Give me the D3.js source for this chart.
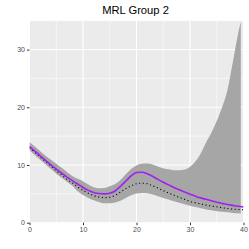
<!DOCTYPE html>
<html>
<head>
<meta charset="utf-8">
<script src="https://cdn.jsdelivr.net/npm/d3@7"></script>
<style>
html,body{margin:0;padding:0;background:#fff;}
svg{display:block;font-family:"Liberation Sans",Arial,sans-serif;}
</style>
</head>
<body>
<svg id="chart" width="249" height="249"></svg>
<script>
const title = "MRL Group 2";
const xTicks = [0, 10, 20, 30, 40];
const yTicks = [0, 10, 20, 30];
const xMinor = [5, 15, 25, 35];
const yMinor = [5, 15, 25, 35];

const lineX = [0,1,2,3,4,5,6,7,8,9,10,11,12,13,14,15,16,17,18,19,20,21,22,23,24,25,26,27,28,29,30,31,32,33,34,35,36,37,38,39,40];
const meanY = [13.2,12.4,11.6,10.8,10.0,9.3,8.6,7.9,7.3,6.7,6.1,5.6,5.25,5.05,5.0,5.1,5.5,6.3,7.2,8.1,8.7,8.75,8.5,8.05,7.5,7.0,6.55,6.1,5.7,5.3,4.95,4.6,4.3,4.05,3.8,3.55,3.35,3.15,3.0,2.85,2.72];
const medianY = [13.0,12.2,11.4,10.6,9.8,9.0,8.3,7.5,6.9,6.2,5.6,5.1,4.7,4.45,4.35,4.4,4.75,5.3,5.9,6.4,6.75,6.85,6.75,6.4,6.0,5.55,5.15,4.75,4.4,4.05,3.7,3.45,3.25,3.05,2.9,2.75,2.6,2.45,2.35,2.3,2.25];

const bandX = [0,1,2,3,4,5,6,7,8,9,10,11,12,13,14,15,16,17,18,19,20,21,22,23,24,25,26,27,28,29,30,31,32,33,34,35,36,37,38,39,39.5];
const bandLo = [12.5,11.7,10.9,10.1,9.3,8.5,7.8,7.1,6.4,5.45,4.8,4.3,3.9,3.6,3.35,3.35,3.5,3.8,4.3,4.75,5.05,5.15,5.1,4.9,4.6,4.3,4.0,3.7,3.45,3.2,2.95,2.7,2.5,2.3,2.15,2.0,1.9,1.8,1.7,1.65,1.6];
const bandHi = [14.0,13.2,12.4,11.6,10.9,10.2,9.5,8.8,8.1,7.6,7.2,6.6,6.15,5.95,6.0,6.3,6.7,7.4,8.4,9.3,9.9,10.2,10.25,10.1,9.75,9.45,9.25,9.1,9.1,9.2,9.7,10.6,12.0,13.9,15.6,17.6,20.0,23.0,27.8,32.8,34.8];

const W = 249, H = 249;
const L = 29.5, R = 243.5, T = 20.7, B = 222.7;

const svg = d3.select("#chart");
const x = d3.scaleLinear().domain([0, 40]).range([L, R]);
const y = d3.scaleLinear().domain([0, 35]).range([B, T]);

// panel
svg.append("rect").attr("x", L).attr("y", T).attr("width", R - L).attr("height", B - T).attr("fill", "#EBEBEB");

const grid = svg.append("g");
xMinor.forEach(v => grid.append("line").attr("x1", x(v)).attr("x2", x(v)).attr("y1", T).attr("y2", B).attr("stroke", "#fff").attr("stroke-width", 0.55));
yMinor.forEach(v => grid.append("line").attr("y1", y(v)).attr("y2", y(v)).attr("x1", L).attr("x2", R).attr("stroke", "#fff").attr("stroke-width", 0.55));
xTicks.forEach(v => grid.append("line").attr("x1", x(v)).attr("x2", x(v)).attr("y1", T).attr("y2", B).attr("stroke", "#fff").attr("stroke-width", 1.07));
yTicks.forEach(v => grid.append("line").attr("y1", y(v)).attr("y2", y(v)).attr("x1", L).attr("x2", R).attr("stroke", "#fff").attr("stroke-width", 1.07));

svg.append("clipPath").attr("id", "clip").append("rect").attr("x", L).attr("y", T).attr("width", R - L).attr("height", B - T);
const plot = svg.append("g").attr("clip-path", "url(#clip)");

const band = bandX.map((d, i) => ({x: d, lo: bandLo[i], hi: bandHi[i]}));
plot.append("path").datum(band)
  .attr("fill", "#A6A6A6")
  .attr("d", d3.area().x(d => x(d.x)).y0(d => y(d.lo)).y1(d => y(d.hi)).curve(d3.curveMonotoneX));

const mean = lineX.map((d, i) => ({x: d, y: meanY[i]}));
const med = lineX.map((d, i) => ({x: d, y: medianY[i]}));
const line = d3.line().x(d => x(d.x)).y(d => y(d.y)).curve(d3.curveMonotoneX);

plot.append("path").datum(med).attr("fill", "none").attr("stroke", "#000").attr("stroke-width", 1.1).attr("stroke-dasharray", "1.1,2.6").attr("d", line);
plot.append("path").datum(mean).attr("fill", "none").attr("stroke", "#A020F0").attr("stroke-width", 1.6).attr("d", line);

// axes
const xAxis = d3.axisBottom(x).tickValues(xTicks).tickSize(2.5).tickPadding(1.5).tickFormat(d3.format("d"));
const gx = svg.append("g").attr("transform", `translate(0,${B})`).call(xAxis);
gx.select(".domain").remove();
gx.selectAll("line").attr("stroke", "#333333").attr("stroke-width", 1);
gx.selectAll("text").attr("fill", "#4D4D4D").attr("font-size", 7).attr("font-family", "Liberation Sans, Arial, sans-serif");

const yAxis = d3.axisLeft(y).tickValues(yTicks).tickSize(2.5).tickPadding(2).tickFormat(d3.format("d"));
const gy = svg.append("g").attr("transform", `translate(${L},0)`).call(yAxis);
gy.select(".domain").remove();
gy.selectAll("line").attr("stroke", "#333333").attr("stroke-width", 1);
gy.selectAll("text").attr("fill", "#4D4D4D").attr("font-size", 7).attr("font-family", "Liberation Sans, Arial, sans-serif");

svg.append("text").attr("x", (L + R) / 2 - 1).attr("y", 14).attr("text-anchor", "middle")
  .attr("font-size", 11.2).attr("fill", "#000").text(title);
</script>
</body>
</html>
